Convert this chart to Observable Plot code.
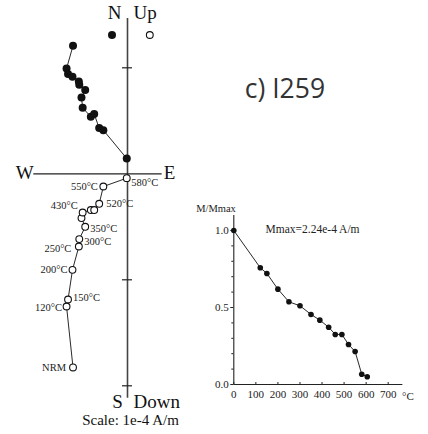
<!DOCTYPE html>
<html>
<head>
<meta charset="utf-8">
<script src="https://cdn.jsdelivr.net/npm/d3@7"></script>
<script src="https://cdn.jsdelivr.net/npm/@observablehq/plot@0.6"></script>
<style>
  html, body { margin: 0; padding: 0; background: #fff; }
  #chart { position: relative; width: 428px; height: 434px; overflow: hidden; }
  #chart svg { position: absolute; left: 0; top: 0; background: transparent; }
</style>
</head>
<body>
<div id="chart"></div>
<script>
// ---- Zijderveld diagram data (units of 1e-4 A/m) ----
const steps = ["NRM","120°C","150°C","200°C","250°C","300°C","350°C","390°C","430°C","460°C","490°C","520°C","550°C","580°C"];
const east  = [-0.514,-0.575,-0.561,-0.519,-0.459,-0.455,-0.399,-0.434,-0.423,-0.346,-0.314,-0.267,-0.228,-0.007];
const north = [1.208,0.993,0.941,0.915,0.871,0.840,0.790,0.720,0.623,0.538,0.563,0.431,0.412,0.144];
const down  = [1.827,1.252,1.186,0.906,0.686,0.616,0.500,0.418,0.365,0.342,0.342,0.283,0.120,0.041];
const labelledSteps = ["NRM","120°C","150°C","200°C","250°C","300°C","350°C","430°C","520°C","550°C","580°C"];
const scaleTicks = [1, -1, -2];

// ---- Demagnetisation curve data ----
const demagTemps = [0,120,150,200,250,300,350,390,430,460,490,520,550,580,605];
const demagM     = [1.0,0.758,0.721,0.619,0.537,0.511,0.455,0.418,0.372,0.325,0.325,0.26,0.214,0.067,0.05];
const tempTicks  = [0,100,200,300,400,500,600,700];
const mTicksMajor = [0,0.5,1.0];
const mTicksMinor = [0.1,0.2,0.3,0.4,0.6,0.7,0.8,0.9];
const mmaxText = "Mmax=2.24e-4 A/m";
const sampleTitle = "c) I259";

// ---- layout (pixels) ----
const W = 428, H = 434;
const zPx = 106;               // pixels per 1e-4 A/m
const zOrigin = [127, 173.3];  // pixel position of origin
const nsExtent = [1.465, -2.117];
const weExtent = [-0.884, 0.327];

const labelOffsets = {
  "NRM":[-7,0,"end"], "120°C":[-4.5,1,"end"], "150°C":[5,-1.5,"start"],
  "200°C":[-5,0,"end"], "250°C":[-7.5,2.5,"end"], "300°C":[5,2.5,"start"],
  "350°C":[5,1.5,"start"], "430°C":[-5,-6.5,"end"], "520°C":[7,0,"start"],
  "550°C":[-5.5,0,"end"], "580°C":[4.5,4.5,"start"]
};

const zij = steps.map((s, i) => ({step: s, e: east[i], n: north[i], up: -down[i]}));
const zLabels = zij.filter(d => labelledSteps.includes(d.step));
const serif = "Liberation Serif, Times New Roman, serif";

const xDom = [(0 - zOrigin[0]) / zPx, (214 - zOrigin[0]) / zPx];
const yDom = [(zOrigin[1] - H) / zPx, zOrigin[1] / zPx];
const tickHalf = 5 / zPx;

const zPlot = Plot.plot({
  width: W, height: H, margin: 0,
  x: {domain: xDom, range: [0, 214], axis: null},
  y: {domain: yDom, range: [H, 0], axis: null},
  style: {fontFamily: serif, background: "transparent", overflow: "visible"},
  marks: [
    // axes
    Plot.ruleX([0], {y1: nsExtent[0], y2: nsExtent[1], stroke: "#444", strokeWidth: 1.6}),
    Plot.ruleY([0], {x1: weExtent[0], x2: weExtent[1], stroke: "#222", strokeWidth: 1.2}),
    Plot.ruleY(scaleTicks, {y: d => d, x1: -tickHalf, x2: tickHalf, stroke: "#222", strokeWidth: 1.2}),
    // horizontal projection (filled)
    Plot.line(zij, {x: "e", y: "n", stroke: "#111", strokeWidth: 0.9}),
    Plot.dot(zij, {x: "e", y: "n", r: 4, fill: "#111", stroke: "none"}),
    // vertical projection (open)
    Plot.line(zij, {x: "e", y: "up", stroke: "#111", strokeWidth: 0.9}),
    Plot.dot(zij, {x: "e", y: "up", r: 3.4, fill: "white", stroke: "#111", strokeWidth: 1.1}),
    // step labels
    ...zLabels.map(d => Plot.text([d], {
      x: "e", y: "up", text: "step",
      dx: labelOffsets[d.step][0], dy: labelOffsets[d.step][1], textAnchor: labelOffsets[d.step][2],
      fontSize: 10.5, fill: "#222"
    })),
    // direction letters
    Plot.text(["N"], {x: 0, y: nsExtent[0], text: d => d, dx: -13, dy: -6, fontSize: 19, fill: "#111"}),
    Plot.text(["Up"], {x: 0, y: nsExtent[0], text: d => d, dx: 6, dy: -6, textAnchor: "start", fontSize: 19, fill: "#111"}),
    Plot.text(["W"], {x: weExtent[0], y: 0, text: d => d, dx: 0, dy: -1, textAnchor: "end", fontSize: 19, fill: "#111"}),
    Plot.text(["E"], {x: weExtent[1], y: 0, text: d => d, dx: 1.5, dy: -1, textAnchor: "start", fontSize: 19, fill: "#111"}),
    Plot.text(["S"], {x: 0, y: nsExtent[1], text: d => d, dx: -10, dy: 4, fontSize: 19, fill: "#111"}),
    Plot.text(["Down"], {x: 0, y: nsExtent[1], text: d => d, dx: 6, dy: 4, textAnchor: "start", fontSize: 19, fill: "#111"}),
    Plot.text(["Scale: 1e-4 A/m"], {x: 0, y: nsExtent[1], text: d => d, dx: 3, dy: 22, fontSize: 15, fill: "#111"}),
    // legend symbols
    Plot.dot(["h"], {x: 0, y: nsExtent[0], dx: -15.5, dy: 16.5, r: 4, fill: "#111"}),
    Plot.dot(["v"], {x: 0, y: nsExtent[0], dx: 22.3, dy: 16.5, r: 3.4, fill: "white", stroke: "#111", strokeWidth: 1.1}),
    // sample title
    Plot.text([sampleTitle], {x: (244.3 - zOrigin[0]) / zPx, y: (zOrigin[1] - 89) / zPx, text: d => d,
      textAnchor: "start", fontSize: 26.5, fontFamily: "Open Sans, Lato, sans-serif", fill: "#333"})
  ]
});

// ---- demag plot ----
const ax0 = 233.3, ax700 = 387.7, ay0 = 384, ay1 = 230;
const pxT = 700 / (ax700 - ax0);   // temp units per pixel
const pxM = 1 / (ay0 - ay1);       // M units per pixel
const demag = demagTemps.map((t, i) => ({t, m: demagM[i]}));

const dPlot = Plot.plot({
  width: W, height: H,
  marginLeft: ax0, marginRight: W - ax700, marginTop: ay1, marginBottom: H - ay0,
  x: {domain: [0, 700], axis: null},
  y: {domain: [0, 1], axis: null},
  style: {fontFamily: serif, background: "transparent", overflow: "visible"},
  marks: [
    Plot.ruleX([0], {y1: 0, y2: 169 * pxM, stroke: "#222", strokeWidth: 1.1}),
    Plot.ruleY([0], {x1: 0, x2: 169 * pxT / 0.9997 * 1.0, stroke: "#222", strokeWidth: 1.1}),
    Plot.ruleY(mTicksMajor, {y: d => d, x1: -3 * pxT, x2: 0, stroke: "#222", strokeWidth: 1}),
    Plot.ruleY(mTicksMinor, {y: d => d, x1: -2 * pxT, x2: 0, stroke: "#222", strokeWidth: 1}),
    Plot.ruleX(tempTicks, {x: d => d, y1: 0, y2: 2 * pxM, stroke: "#222", strokeWidth: 1}),
    Plot.text(mTicksMajor, {x: 0, y: d => d, text: d => d.toFixed(1), textAnchor: "end", dx: -5, fontSize: 11, fill: "#222"}),
    Plot.text(tempTicks, {x: d => d, y: 0, text: d => String(d), dy: 10, fontSize: 11, fill: "#222"}),
    Plot.text(["°C"], {x: 763, y: 0, text: d => d, textAnchor: "start", dy: 12, fontSize: 11, fill: "#222"}),
    Plot.text(["M/Mmax"], {x: 0, y: 1, text: d => d, textAnchor: "end", dx: 2, dy: -21.6, fontSize: 10.5, fill: "#222"}),
    Plot.text([mmaxText], {x: 144, y: 1, text: d => d, textAnchor: "start", dy: -1.5, fontSize: 11.5, fill: "#222"}),
    Plot.line(demag, {x: "t", y: "m", stroke: "#111", strokeWidth: 0.9}),
    Plot.dot(demag, {x: "t", y: "m", r: 2.8, fill: "#111"})
  ]
});

const chart = document.getElementById("chart");
chart.appendChild(zPlot);
chart.appendChild(dPlot);
</script>
</body>
</html>
